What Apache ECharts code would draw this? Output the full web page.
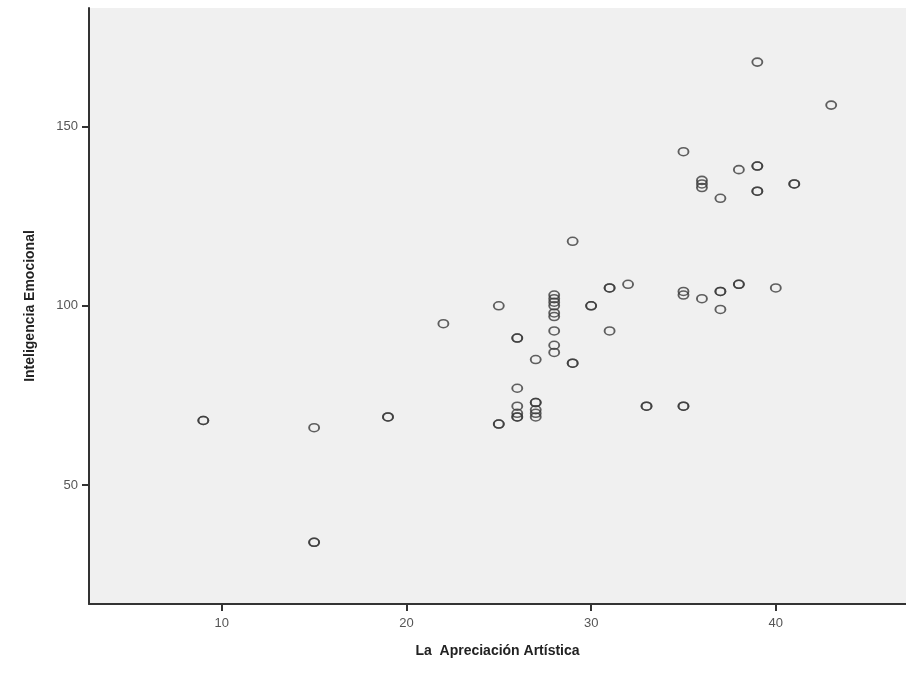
<!DOCTYPE html>
<html>
<head>
<meta charset="utf-8">
<script src="https://cdn.jsdelivr.net/npm/echarts@6/dist/echarts.min.js"></script>
<style>
  html, body { margin: 0; padding: 0; background: #fff; }
  #chart { width: 906px; height: 681px; }
</style>
</head>
<body>
<div id="chart"></div>
<script>
// La Apreciación Artística (x) vs Inteligencia Emocional (y), one entry per case
const apreciacion = [
  9, 9, 15, 15, 15, 19, 19, 22, 25, 25, 25,
  26, 26, 26, 26, 26, 26, 26,
  27, 27, 27, 27, 27, 27,
  28, 28, 28, 28, 28, 28, 28, 28, 28,
  29, 29, 29, 30, 30, 31, 31, 31, 32,
  33, 33, 35, 35, 35, 35, 35,
  36, 36, 36, 36, 37, 37, 37, 37,
  38, 38, 38, 39, 39, 39, 39, 39, 40, 41, 41, 43
]
const inteligencia = [
  68, 68, 66, 34, 34, 69, 69, 95, 100, 67, 67,
  91, 91, 77, 72, 70, 69, 69,
  85, 73, 73, 71, 70, 69,
  103, 102, 101, 100, 98, 97, 93, 89, 87,
  118, 84, 84, 100, 100, 105, 105, 93, 106,
  72, 72, 143, 104, 103, 72, 72,
  135, 134, 133, 102, 130, 104, 104, 99,
  138, 106, 106, 168, 139, 139, 132, 132, 105, 134, 134, 156
]
const xTicks = [10, 20, 30, 40]
const yTicks = [50, 100, 150]

const points = apreciacion.map((x, i) => [x, inteligencia[i]])

const chart = echarts.init(document.getElementById('chart'))
chart.setOption({
  animation: false,
  textStyle: { fontFamily: 'Liberation Sans, Arial, sans-serif' },
  grid: {
    left: 89,
    right: 0,
    top: 8,
    bottom: 77,
    show: true,
    backgroundColor: '#f0f0f0',
    borderWidth: 0
  },
  xAxis: {
    type: 'value',
    min: 2.81,
    max: 47.05,
    name: 'La  Apreciación Artística',
    nameLocation: 'middle',
    nameGap: 40,
    nameTextStyle: { color: '#222', fontSize: 14, fontWeight: 'bold' },
    axisLine: { show: true, onZero: false, lineStyle: { color: '#333', width: 2 } },
    axisTick: { show: true, length: 7, customValues: xTicks, lineStyle: { color: '#333', width: 2 } },
    axisLabel: { customValues: xTicks, color: '#555', fontSize: 13, margin: 13 },
    splitLine: { show: false }
  },
  yAxis: {
    type: 'value',
    min: 16.8,
    max: 183.1,
    name: 'Inteligencia Emocional',
    nameLocation: 'middle',
    nameGap: 52,
    nameTextStyle: { color: '#222', fontSize: 14, fontWeight: 'bold' },
    axisLine: { show: true, onZero: false, lineStyle: { color: '#333', width: 2 } },
    axisTick: { show: true, length: 7, customValues: yTicks, lineStyle: { color: '#333', width: 2 } },
    axisLabel: { customValues: yTicks, color: '#555', fontSize: 13, margin: 11 },
    splitLine: { show: false }
  },
  series: [
    {
      type: 'scatter',
      data: points,
      symbol: 'circle',
      symbolSize: [10, 8],
      itemStyle: {
        color: 'rgba(0,0,0,0)',
        borderColor: '#3a3a3a',
        borderWidth: 1.7
      }
    }
  ]
})
</script>
</body>
</html>
